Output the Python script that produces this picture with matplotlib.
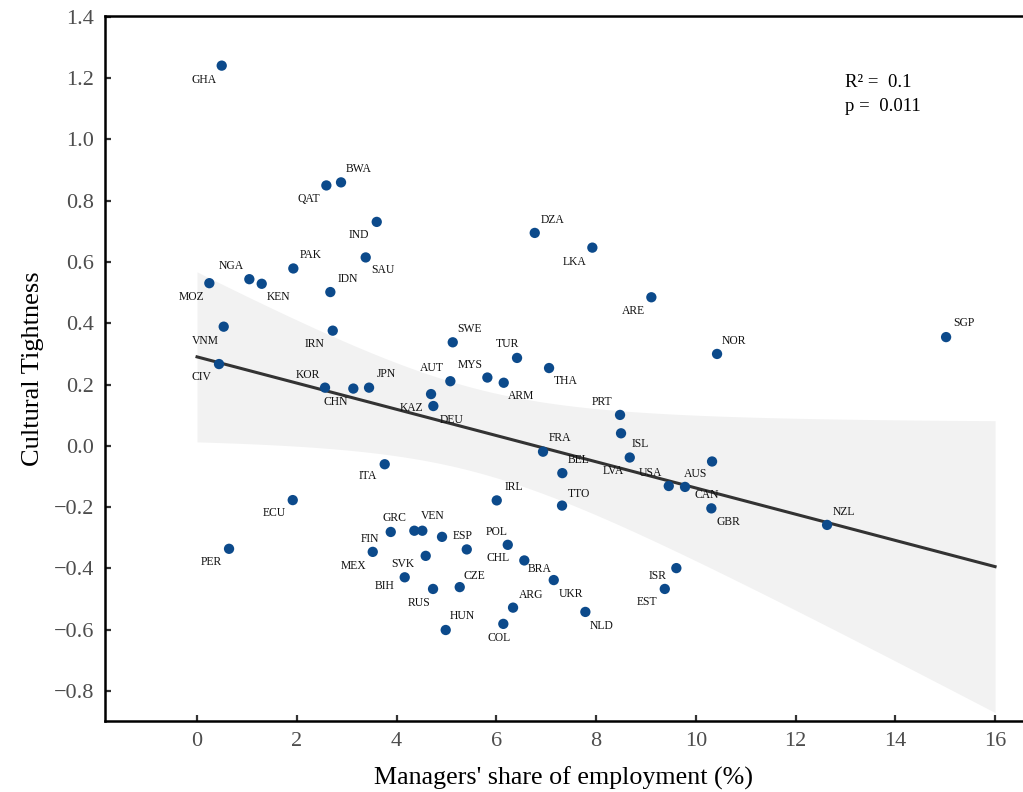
import numpy as np
import matplotlib
matplotlib.use("Agg")
import matplotlib.pyplot as plt

plt.rcParams['font.family'] = ['Liberation Serif', 'DejaVu Serif']

# ---- data ----
countries = ["GHA", "BWA", "QAT", "IND", "SAU", "PAK", "NGA", "KEN", "MOZ", "IDN",
             "VNM", "IRN", "CIV", "KOR", "CHN", "JPN", "AUT", "KAZ", "DEU", "MYS",
             "ARM", "SWE", "TUR", "THA", "DZA", "LKA", "ARE", "NOR", "SGP", "PRT",
             "ISL", "LVA", "AUS", "USA", "CAN", "GBR", "NZL", "FRA", "BEL", "IRL",
             "TTO", "ITA", "ECU", "PER", "MEX", "FIN", "GRC", "VEN", "ESP", "SVK",
             "BIH", "RUS", "CZE", "CHL", "POL", "BRA", "UKR", "ARG", "NLD", "COL",
             "HUN", "ISR", "EST"]
managers_share = [0.495, 2.887, 2.593, 3.603, 3.382, 1.931, 1.049, 1.297, 0.247, 2.673,
                  0.535, 2.721, 0.441, 2.566, 3.134, 3.449, 5.079, 4.692, 4.738, 5.821,
                  6.149, 5.127, 6.416, 7.058, 6.771, 7.926, 9.109, 10.426, 15.018, 8.481,
                  8.501, 8.676, 10.326, 9.458, 9.784, 10.312, 12.632, 6.937, 7.324, 6.009,
                  7.318, 3.763, 1.919, 0.642, 3.523, 3.884, 4.357, 4.517, 4.912, 4.585,
                  4.164, 4.732, 5.267, 5.408, 6.230, 6.562, 7.152, 6.336, 7.786, 6.141,
                  4.986, 9.610, 9.378]
tightness = [1.241, 0.860, 0.850, 0.731, 0.615, 0.579, 0.544, 0.529, 0.531, 0.502,
             0.389, 0.376, 0.267, 0.190, 0.187, 0.190, 0.211, 0.169, 0.130, 0.223,
             0.206, 0.338, 0.287, 0.254, 0.695, 0.647, 0.485, 0.300, 0.355, 0.101,
             0.041, -0.038, -0.051, -0.131, -0.134, -0.204, -0.258, -0.019, -0.089, -0.178,
             -0.195, -0.060, -0.177, -0.336, -0.346, -0.281, -0.277, -0.277, -0.297, -0.359,
             -0.429, -0.467, -0.461, -0.338, -0.323, -0.374, -0.438, -0.528, -0.542, -0.581,
             -0.601, -0.399, -0.467]

x_ticks = [0, 2, 4, 6, 8, 10, 12, 14, 16]
y_ticks = [-0.8, -0.6, -0.4, -0.2, 0.0, 0.2, 0.4, 0.6, 0.8, 1.0, 1.2, 1.4]
stats_text = ["R\u00b2 =  0.1", "p =  0.011"]

# label placement offsets (pixels, right / down) -- layout only
label_offsets = {
    "GHA": (-18, 14), "BWA": (18, -13), "QAT": (-18, 14), "IND": (-18, 13), "SAU": (17, 13),
    "PAK": (17, -13), "NGA": (-18, -13), "KEN": (17, 13), "MOZ": (-18, 14), "IDN": (17, -13),
    "VNM": (-18, 14), "IRN": (-18, 13), "CIV": (-18, 13), "KOR": (-17, -13), "CHN": (-18, 13),
    "JPN": (17, -14), "AUT": (-18, -13), "KAZ": (-20, 14), "DEU": (18, 14), "MYS": (-17, -13),
    "ARM": (17, 13), "SWE": (17, -13), "TUR": (-10, -14), "THA": (17, 13), "DZA": (18, -13),
    "LKA": (-18, 14), "ARE": (-18, 14), "NOR": (17, -13), "SGP": (18, -14), "PRT": (-18, -13),
    "ISL": (19, 11), "LVA": (-16, 13), "AUS": (-16, 13), "USA": (-18, -13), "CAN": (22, 8),
    "GBR": (17, 14), "NZL": (17, -13), "FRA": (17, -14), "BEL": (16, -13), "IRL": (17, -13),
    "TTO": (17, -12), "ITA": (-17, 12), "ECU": (-18, 13), "PER": (-18, 13), "MEX": (-19, 14),
    "FIN": (-21, 7), "GRC": (-20, -13), "VEN": (10, -15), "ESP": (21, -1), "SVK": (-23, 8),
    "BIH": (-20, 9), "RUS": (-14, 14), "CZE": (15, -11), "CHL": (31, 9), "POL": (-11, -13),
    "BRA": (15, 9), "UKR": (17, 14), "ARG": (18, -13), "NLD": (16, 14), "COL": (-4, 14),
    "HUN": (17, -14), "ISR": (-19, 8), "EST": (-18, 13),
}

x = np.array(managers_share)
y = np.array(tightness)

# ---- figure ----
fig = plt.figure(figsize=(10.23, 7.92), dpi=100)
ax = fig.add_axes([105 / 1023, 71 / 792, 1 - 105 / 1023, (721 - 16) / 792])

# linear fit with 99% confidence band
n = len(x)
b, a = np.polyfit(x, y, 1)
xs = np.linspace(0, 16, 200)
yhat = a + b * xs
resid = y - (a + b * x)
s = np.sqrt(np.sum(resid ** 2) / (n - 2))
sxx = np.sum((x - x.mean()) ** 2)
se = s * np.sqrt(1 / n + (xs - x.mean()) ** 2 / sxx)
tcrit = 2.659  # t(0.995, df=61)
ax.fill_between(xs, yhat - tcrit * se, yhat + tcrit * se, color='#f2f2f2', lw=0, zorder=1)
ax.plot(xs, yhat, color='#333333', lw=2.2, zorder=2)

ax.scatter(x, y, s=55, color='#0c4a8b', edgecolor='none', zorder=3)

for name, xi, yi in zip(countries, x, y):
    dx, dy = label_offsets[name]
    ax.annotate(name, (xi, yi), xytext=(dx, -dy), textcoords='offset pixels',
                ha='center', va='center', fontsize=8.4, color='#111111', zorder=4)

ax.text(13.0, 1.187, stats_text[0], fontsize=13.5, color='black', ha='left', va='center')
ax.text(13.0, 1.106, stats_text[1], fontsize=13.5, color='black', ha='left', va='center')

ax.set_xlim(-1.845, 16.56)
ax.set_ylim(-0.898, 1.403)
ax.set_xticks(x_ticks)
ax.set_xticklabels([str(t) for t in x_ticks])
ax.set_yticks(y_ticks)
ax.set_yticklabels([f"{t:.1f}".replace('-', '\u2212') for t in y_ticks])

ax.spines['right'].set_visible(False)
for side in ['left', 'bottom', 'top']:
    ax.spines[side].set_linewidth(1.8)
    ax.spines[side].set_color('black')

ax.tick_params(direction='in', length=4, width=1.6, colors='#333333',
               labelsize=16, labelcolor='#4d4d4d', pad=8)
ax.tick_params(axis='x', pad=8)

ax.set_xlabel("Managers' share of employment (%)", fontsize=18.7, color='black', labelpad=11)
ax.set_ylabel("Cultural Tightness", fontsize=19, color='black', labelpad=6.5)

fig.savefig("out.png", dpi=100)
